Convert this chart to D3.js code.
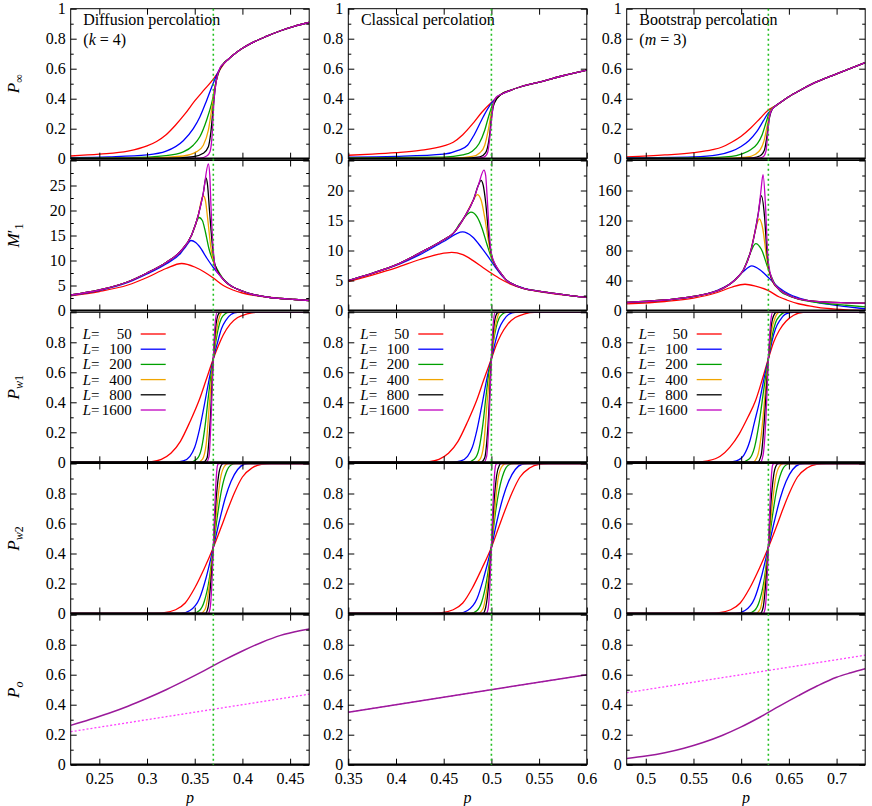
<!DOCTYPE html>
<html>
<head>
<meta charset="utf-8">
<script src="https://cdn.jsdelivr.net/npm/d3@7"></script>
<style>
  body { margin: 0; background: #fff; }
  svg { display: block; font-family: "Liberation Serif", "Times New Roman", serif; }
  svg text { font-family: "Liberation Serif", "Times New Roman", serif; }
</style>
</head>
<body>
<svg id="chart"></svg>
<script>
// ---- data ----
const sizes = [50, 100, 200, 400, 800, 1600];
const seriesColors = ['#ff0000', '#0000ff', '#00a000', '#f0a500', '#000000', '#c000c0'];
const pcList = [0.3695, 0.5, 0.6285];
const pDomains = [[0.22, 0.47], [0.35, 0.6], [0.48, 0.73]];
const xTickVals = [[0.25, 0.3, 0.35, 0.4, 0.45], [0.35, 0.4, 0.45, 0.5, 0.55, 0.6], [0.5, 0.55, 0.6, 0.65, 0.7]];
const titles = ['Diffusion percolation', 'Classical percolation', 'Bootstrap percolation'];
const subtitles = [['k', ' = 4)'], null, ['m', ' = 3)']];
const m1Max = [30, 25, 200];
const m1Ticks = [[0, 5, 10, 15, 20, 25], [0, 5, 10, 15, 20], [0, 40, 80, 120, 160]];
const m1Minor = [[2.5, 7.5, 12.5, 17.5, 22.5, 27.5], [2.5, 7.5, 12.5, 17.5, 22.5], [20, 60, 100, 140, 180]];

// P_infinity : curves below pc, shared tail above
const pinfDiff = [
  [[0.22,0.018],[0.25,0.03],[0.28,0.05],[0.30,0.085],[0.31,0.115],[0.32,0.16],[0.33,0.225],[0.34,0.3],[0.35,0.385],[0.36,0.46],[0.3695,0.53],[0.375,0.58],[0.38,0.628]],
  [[0.22,0.007],[0.26,0.012],[0.30,0.025],[0.32,0.05],[0.338,0.12],[0.3485,0.2],[0.3555,0.28],[0.3626,0.39],[0.3695,0.505],[0.3765,0.6],[0.38,0.632]],
  [[0.22,0.003],[0.28,0.006],[0.32,0.02],[0.338,0.045],[0.3485,0.09],[0.3555,0.148],[0.3626,0.26],[0.3678,0.37],[0.373,0.53],[0.377,0.605],[0.38,0.632]],
  [[0.22,0.001],[0.30,0.003],[0.338,0.018],[0.352,0.047],[0.359,0.09],[0.3643,0.19],[0.3678,0.33],[0.3713,0.48],[0.3765,0.6],[0.38,0.632]],
  [[0.22,0],[0.32,0.002],[0.3485,0.013],[0.359,0.036],[0.3643,0.08],[0.3668,0.17],[0.3695,0.35],[0.3723,0.51],[0.3765,0.6],[0.38,0.632]],
  [[0.22,0],[0.34,0.001],[0.3555,0.004],[0.3626,0.018],[0.366,0.047],[0.3684,0.17],[0.3702,0.39],[0.373,0.53],[0.3765,0.605],[0.38,0.632]]
];
const pinfDiffTail = [[0.38,0.632],[0.385,0.662],[0.39,0.69],[0.40,0.736],[0.41,0.772],[0.425,0.815],[0.44,0.853],[0.455,0.884],[0.47,0.908]];

const pinfClass = [
  [[0.35,0.023],[0.375,0.03],[0.40,0.04],[0.425,0.055],[0.45,0.085],[0.46,0.11],[0.47,0.16],[0.48,0.23],[0.49,0.31],[0.50,0.375],[0.51,0.428]],
  [[0.35,0.01],[0.40,0.015],[0.45,0.03],[0.465,0.055],[0.475,0.09],[0.482,0.16],[0.4915,0.28],[0.50,0.37],[0.507,0.415],[0.51,0.428]],
  [[0.35,0.005],[0.45,0.01],[0.47,0.025],[0.48,0.05],[0.487,0.1],[0.493,0.19],[0.497,0.28],[0.50,0.34],[0.505,0.405],[0.51,0.428]],
  [[0.35,0.002],[0.46,0.004],[0.48,0.015],[0.488,0.04],[0.493,0.09],[0.497,0.2],[0.50,0.31],[0.504,0.39],[0.51,0.428]],
  [[0.35,0.001],[0.47,0.002],[0.488,0.012],[0.494,0.04],[0.498,0.15],[0.50,0.27],[0.503,0.37],[0.51,0.428]],
  [[0.35,0],[0.48,0.001],[0.492,0.01],[0.496,0.04],[0.4985,0.15],[0.50,0.25],[0.502,0.36],[0.505,0.41],[0.51,0.428]]
];
const pinfClassTail = [[0.51,0.428],[0.52,0.456],[0.53,0.478],[0.54,0.495],[0.55,0.51],[0.575,0.553],[0.60,0.59]];

const pinfBoot = [
  [[0.48,0.012],[0.52,0.025],[0.55,0.04],[0.57,0.06],[0.58,0.078],[0.59,0.11],[0.60,0.15],[0.61,0.205],[0.62,0.27],[0.6285,0.325],[0.636,0.352]],
  [[0.48,0.005],[0.55,0.012],[0.575,0.025],[0.59,0.05],[0.5995,0.08],[0.608,0.12],[0.6163,0.18],[0.623,0.25],[0.6285,0.305],[0.636,0.352]],
  [[0.48,0.002],[0.56,0.005],[0.59,0.015],[0.60,0.03],[0.61,0.06],[0.617,0.1],[0.622,0.16],[0.626,0.24],[0.6285,0.29],[0.632,0.335],[0.636,0.352]],
  [[0.48,0.001],[0.58,0.002],[0.605,0.01],[0.615,0.03],[0.62,0.06],[0.624,0.12],[0.627,0.21],[0.6295,0.29],[0.633,0.34],[0.636,0.352]],
  [[0.48,0],[0.59,0.001],[0.612,0.006],[0.62,0.02],[0.6245,0.06],[0.627,0.15],[0.6295,0.27],[0.633,0.335],[0.636,0.352]],
  [[0.48,0],[0.60,0],[0.618,0.003],[0.6235,0.015],[0.626,0.05],[0.6275,0.14],[0.629,0.25],[0.6315,0.32],[0.636,0.352]]
];
const pinfBootTail = [[0.636,0.352],[0.64,0.37],[0.65,0.413],[0.66,0.45],[0.675,0.5],[0.70,0.565],[0.73,0.64]];

// M'_1 : rising envelope, peaks per L, shared falling tail
const m1DiffEnv = [[0.22,3.1],[0.25,4.1],[0.28,5.75],[0.30,7.5],[0.32,9.6],[0.335,11.8],[0.3468,15.1],[0.3538,19.1],[0.359,23.5]];
const m1DiffTail = [[0.38,6.2],[0.385,5.3],[0.39,4.7],[0.40,3.9],[0.41,3.25],[0.425,2.7],[0.44,2.4],[0.455,2.2],[0.47,2.0]];
const m1Diff = [
  [[0.22,2.95],[0.25,3.8],[0.28,5.1],[0.30,6.6],[0.32,8.4],[0.3363,9.4],[0.35,8.7],[0.36,7.7],[0.3695,6.5],[0.38,5.0],[0.39,4.1],[0.40,3.5],[0.41,3.1],[0.425,2.7],[0.44,2.4],[0.455,2.2],[0.47,2.0]],
  [[0.22,3.05],[0.25,4.0],[0.28,5.6],[0.30,7.3],[0.32,9.3],[0.335,11.4],[0.341,12.9],[0.3461,14.0],[0.351,13.6],[0.355,12.8],[0.3626,10.5],[0.3695,8.6],[0.3765,7.0],[0.382,5.9],[0.39,4.7],[0.40,3.9],[0.41,3.25],[0.425,2.7],[0.44,2.4],[0.455,2.2],[0.47,2.0]],
  [[0.335,11.8],[0.3468,15.1],[0.351,17.3],[0.3545,18.6],[0.358,18.0],[0.3605,16.3],[0.365,12.3],[0.3695,9.8],[0.3765,7.3],[0.38,6.3]],
  [[0.3468,15.1],[0.3538,19.1],[0.357,22.0],[0.359,22.9],[0.361,22.2],[0.3635,18.5],[0.367,12.5],[0.37,9.5],[0.3765,7.1],[0.38,6.2]],
  [[0.3538,19.1],[0.359,23.5],[0.3618,26.5],[0.3635,25],[0.3655,20],[0.3685,13],[0.371,9.3],[0.3765,7.1],[0.38,6.2]],
  [[0.359,23.5],[0.3643,29.3],[0.3658,27],[0.367,21],[0.3695,12],[0.372,8.3],[0.3765,7.0],[0.38,6.2]]
];

const m1ClassEnv = [[0.35,5.0],[0.375,6.2],[0.40,7.6],[0.4286,9.9],[0.45,11.8],[0.4602,12.9],[0.4722,15.7],[0.4811,18.4],[0.4864,20.9]];
const m1ClassTail = [[0.505,7.3],[0.51,6.2],[0.516,5.0],[0.525,4.2],[0.5334,3.7],[0.551,3.2],[0.568,2.8],[0.585,2.45],[0.60,2.2]];
const m1Class = [
  [[0.35,4.8],[0.375,5.9],[0.40,7.1],[0.425,8.5],[0.445,9.4],[0.4584,9.7],[0.47,9.3],[0.48,8.4],[0.49,7.3],[0.50,6.2],[0.51,5.2],[0.52,4.4],[0.535,3.6],[0.55,3.15],[0.575,2.6],[0.60,2.2]],
  [[0.35,5.0],[0.375,6.2],[0.40,7.5],[0.425,9.3],[0.45,11.5],[0.4699,13.1],[0.48,12.3],[0.49,10.4],[0.50,8.2],[0.506,6.8],[0.512,5.6],[0.52,4.6],[0.5334,3.75]],
  [[0.4602,12.9],[0.467,14.5],[0.4722,15.6],[0.4786,16.4],[0.485,15.6],[0.49,13.8],[0.495,11.2],[0.50,8.8],[0.505,7.3]],
  [[0.4722,15.7],[0.4811,18.4],[0.4852,19.3],[0.489,18.5],[0.493,15.5],[0.497,11.5],[0.50,9.0],[0.505,7.3]],
  [[0.4811,18.4],[0.4864,20.9],[0.4891,21.7],[0.4915,20.8],[0.494,18],[0.4975,12],[0.50,9.3],[0.505,7.3]],
  [[0.4864,20.9],[0.4922,23.4],[0.494,22.5],[0.4955,19],[0.498,12.5],[0.50,9.5],[0.505,7.4]]
];

const m1BootEnv = [[0.48,10.7],[0.52,14],[0.55,18.7],[0.5813,29.8],[0.5953,43],[0.6023,54],[0.6093,76],[0.6145,105],[0.618,130]];
const m1BootTail = [[0.64,28],[0.65,20],[0.66,15.5],[0.675,12.5],[0.69,11],[0.71,10.3],[0.73,9.8]];
const m1Boot = [
  [[0.48,8.9],[0.52,12],[0.55,16.5],[0.575,24],[0.59,31],[0.604,35],[0.615,32.5],[0.6285,26.5],[0.64,18],[0.6477,14],[0.66,9],[0.6756,5.3],[0.69,2.7],[0.71,0.9],[0.73,0.3]],
  [[0.48,10.5],[0.52,13.8],[0.55,18.5],[0.575,27],[0.59,37],[0.6023,52],[0.611,59.6],[0.62,54],[0.6285,44],[0.64,30],[0.65,22],[0.66,17],[0.6756,12],[0.69,8.5],[0.71,5.3],[0.73,2.2]],
  [[0.6093,76],[0.6152,89.3],[0.621,82],[0.6285,55],[0.635,36],[0.6408,26],[0.65,19.5],[0.6582,15.8],[0.675,11.5],[0.693,8.9],[0.71,7],[0.73,4.9]],
  [[0.6145,105],[0.619,122],[0.6225,110],[0.6265,72],[0.6285,56],[0.633,38],[0.64,28]],
  [[0.618,130],[0.6211,153],[0.6245,125],[0.627,78],[0.6285,60],[0.633,39],[0.64,28]],
  [[0.618,130],[0.6205,157],[0.6229,181],[0.6255,140],[0.6275,82],[0.6285,64],[0.633,40],[0.64,28]]
];

// P_w1
const pw1Diff = [
  [[0.22,0],[0.29,0],[0.305,0.005],[0.315,0.02],[0.325,0.06],[0.335,0.14],[0.345,0.27],[0.355,0.42],[0.362,0.55],[0.3695,0.69],[0.375,0.78],[0.38,0.85],[0.387,0.92],[0.395,0.965],[0.405,0.99],[0.415,1],[0.47,1]],
  [[0.22,0],[0.328,0],[0.338,0.01],[0.345,0.04],[0.35,0.1],[0.355,0.22],[0.36,0.38],[0.365,0.55],[0.3695,0.69],[0.374,0.8],[0.378,0.89],[0.383,0.95],[0.388,0.985],[0.395,1],[0.47,1]],
  [[0.22,0],[0.345,0],[0.352,0.02],[0.357,0.09],[0.361,0.25],[0.364,0.42],[0.367,0.58],[0.3695,0.69],[0.372,0.8],[0.375,0.9],[0.378,0.96],[0.382,0.99],[0.386,1],[0.47,1]],
  [[0.22,0],[0.353,0],[0.358,0.02],[0.362,0.12],[0.3655,0.4],[0.3695,0.69],[0.3725,0.86],[0.3755,0.96],[0.379,1],[0.47,1]],
  [[0.22,0],[0.359,0],[0.363,0.03],[0.366,0.25],[0.3695,0.69],[0.372,0.9],[0.375,0.99],[0.377,1],[0.47,1]],
  [[0.22,0],[0.362,0],[0.365,0.04],[0.3675,0.35],[0.3695,0.69],[0.3715,0.93],[0.3735,1],[0.47,1]]
];
const pw1Class = [
  [[0.35,0],[0.42,0],[0.435,0.005],[0.445,0.02],[0.455,0.06],[0.465,0.14],[0.475,0.27],[0.485,0.42],[0.492,0.55],[0.5,0.69],[0.505,0.78],[0.51,0.85],[0.517,0.92],[0.525,0.965],[0.535,0.99],[0.545,1],[0.6,1]],
  [[0.35,0],[0.458,0],[0.468,0.01],[0.475,0.04],[0.48,0.1],[0.485,0.22],[0.49,0.38],[0.495,0.55],[0.5,0.69],[0.504,0.8],[0.508,0.89],[0.513,0.95],[0.518,0.985],[0.525,1],[0.6,1]],
  [[0.35,0],[0.475,0],[0.482,0.02],[0.487,0.09],[0.491,0.25],[0.494,0.42],[0.497,0.58],[0.5,0.69],[0.502,0.8],[0.505,0.9],[0.508,0.96],[0.512,0.99],[0.516,1],[0.6,1]],
  [[0.35,0],[0.483,0],[0.488,0.02],[0.492,0.12],[0.4955,0.4],[0.5,0.69],[0.503,0.86],[0.506,0.96],[0.509,1],[0.6,1]],
  [[0.35,0],[0.489,0],[0.493,0.03],[0.4965,0.25],[0.5,0.69],[0.5025,0.9],[0.5055,0.99],[0.5075,1],[0.6,1]],
  [[0.35,0],[0.492,0],[0.495,0.04],[0.498,0.35],[0.5,0.69],[0.502,0.93],[0.504,1],[0.6,1]]
];
const pw1Boot = [
  [[0.48,0],[0.55,0],[0.565,0.01],[0.578,0.04],[0.588,0.1],[0.598,0.19],[0.607,0.3],[0.615,0.41],[0.622,0.55],[0.6285,0.69],[0.634,0.8],[0.64,0.88],[0.647,0.94],[0.655,0.98],[0.665,1],[0.73,1]],
  [[0.48,0],[0.585,0],[0.595,0.01],[0.603,0.05],[0.609,0.14],[0.614,0.27],[0.619,0.4],[0.624,0.56],[0.6285,0.69],[0.632,0.8],[0.636,0.89],[0.641,0.95],[0.647,0.99],[0.655,1],[0.73,1]],
  [[0.48,0],[0.6,0],[0.608,0.02],[0.614,0.1],[0.619,0.27],[0.624,0.5],[0.6285,0.69],[0.632,0.83],[0.636,0.93],[0.641,0.98],[0.646,1],[0.73,1]],
  [[0.48,0],[0.612,0],[0.617,0.04],[0.621,0.18],[0.625,0.45],[0.6285,0.69],[0.632,0.88],[0.636,0.97],[0.64,1],[0.73,1]],
  [[0.48,0],[0.617,0],[0.621,0.05],[0.6245,0.3],[0.6285,0.69],[0.6315,0.91],[0.635,0.99],[0.637,1],[0.73,1]],
  [[0.48,0],[0.62,0],[0.623,0.05],[0.626,0.3],[0.6285,0.69],[0.631,0.94],[0.633,1],[0.73,1]]
];

// P_w2
const pw2Diff = [
  [[0.22,0],[0.30,0],[0.315,0.003],[0.33,0.025],[0.34,0.07],[0.35,0.17],[0.36,0.3],[0.3695,0.44],[0.378,0.58],[0.385,0.7],[0.392,0.81],[0.40,0.91],[0.41,0.97],[0.42,0.995],[0.43,1],[0.47,1]],
  [[0.22,0],[0.335,0],[0.345,0.02],[0.355,0.1],[0.362,0.24],[0.3695,0.44],[0.376,0.62],[0.382,0.77],[0.388,0.88],[0.395,0.96],[0.402,0.995],[0.408,1],[0.47,1]],
  [[0.22,0],[0.348,0],[0.355,0.02],[0.36,0.08],[0.365,0.22],[0.3695,0.44],[0.374,0.66],[0.378,0.82],[0.383,0.94],[0.388,0.99],[0.393,1],[0.47,1]],
  [[0.22,0],[0.356,0],[0.361,0.03],[0.3655,0.2],[0.3695,0.44],[0.3735,0.72],[0.377,0.9],[0.381,0.98],[0.385,1],[0.47,1]],
  [[0.22,0],[0.361,0],[0.364,0.04],[0.367,0.22],[0.3695,0.44],[0.372,0.72],[0.375,0.92],[0.378,0.99],[0.38,1],[0.47,1]],
  [[0.22,0],[0.364,0],[0.366,0.03],[0.368,0.2],[0.3695,0.44],[0.371,0.7],[0.3725,0.9],[0.374,0.99],[0.3755,1],[0.47,1]]
];
const pw2Class = [
  [[0.35,0],[0.43,0],[0.445,0.003],[0.46,0.025],[0.47,0.07],[0.48,0.17],[0.49,0.3],[0.5,0.44],[0.508,0.58],[0.515,0.7],[0.522,0.81],[0.53,0.91],[0.54,0.97],[0.55,0.995],[0.56,1],[0.6,1]],
  [[0.35,0],[0.465,0],[0.475,0.02],[0.485,0.1],[0.492,0.24],[0.5,0.44],[0.506,0.62],[0.512,0.77],[0.518,0.88],[0.525,0.96],[0.532,0.995],[0.538,1],[0.6,1]],
  [[0.35,0],[0.478,0],[0.485,0.02],[0.49,0.08],[0.495,0.22],[0.5,0.44],[0.504,0.66],[0.508,0.82],[0.513,0.94],[0.518,0.99],[0.523,1],[0.6,1]],
  [[0.35,0],[0.486,0],[0.491,0.03],[0.496,0.2],[0.5,0.44],[0.504,0.72],[0.507,0.9],[0.511,0.98],[0.515,1],[0.6,1]],
  [[0.35,0],[0.491,0],[0.494,0.04],[0.4975,0.22],[0.5,0.44],[0.5025,0.72],[0.5055,0.92],[0.5085,0.99],[0.51,1],[0.6,1]],
  [[0.35,0],[0.4945,0],[0.4965,0.03],[0.4985,0.2],[0.5,0.44],[0.5015,0.7],[0.503,0.9],[0.5045,0.99],[0.506,1],[0.6,1]]
];
const pw2Boot = [
  [[0.48,0],[0.559,0],[0.574,0.003],[0.589,0.025],[0.599,0.07],[0.609,0.17],[0.619,0.3],[0.6285,0.44],[0.637,0.58],[0.644,0.7],[0.651,0.81],[0.659,0.91],[0.669,0.97],[0.679,0.995],[0.689,1],[0.73,1]],
  [[0.48,0],[0.594,0],[0.604,0.02],[0.614,0.1],[0.621,0.24],[0.6285,0.44],[0.635,0.62],[0.641,0.77],[0.647,0.88],[0.654,0.96],[0.661,0.995],[0.667,1],[0.73,1]],
  [[0.48,0],[0.607,0],[0.614,0.02],[0.619,0.08],[0.624,0.22],[0.6285,0.44],[0.633,0.66],[0.637,0.82],[0.642,0.94],[0.647,0.99],[0.652,1],[0.73,1]],
  [[0.48,0],[0.615,0],[0.62,0.03],[0.6245,0.2],[0.6285,0.44],[0.6325,0.72],[0.636,0.9],[0.64,0.98],[0.644,1],[0.73,1]],
  [[0.48,0],[0.62,0],[0.623,0.04],[0.626,0.22],[0.6285,0.44],[0.631,0.72],[0.634,0.92],[0.637,0.99],[0.639,1],[0.73,1]],
  [[0.48,0],[0.623,0],[0.625,0.03],[0.627,0.2],[0.6285,0.44],[0.63,0.7],[0.6315,0.9],[0.633,0.99],[0.6345,1],[0.73,1]]
];

// P_o (solid) and the p line (dotted)
const poDiff = [[0.22,0.262],[0.24,0.301],[0.26,0.343],[0.28,0.39],[0.30,0.443],[0.32,0.5],[0.34,0.562],[0.36,0.627],[0.38,0.695],[0.40,0.758],[0.42,0.815],[0.44,0.862],[0.46,0.893],[0.47,0.905]];
const poClass = [[0.35,0.35],[0.6,0.6]];
const poBoot = [[0.48,0.042],[0.50,0.058],[0.52,0.08],[0.54,0.11],[0.56,0.148],[0.58,0.195],[0.60,0.252],[0.62,0.318],[0.64,0.39],[0.66,0.46],[0.68,0.526],[0.70,0.583],[0.715,0.613],[0.73,0.64]];
const diagDiff = [[0.22,0.22],[0.47,0.47]];
const diagClass = [[0.35,0.35],[0.6,0.6]];
const diagBoot = [[0.48,0.48],[0.73,0.73]];

// ---- layout ----
const width = 872, height = 806;
const panelLeft = [70.7, 348.3, 626.7], panelW = 238.5;
const rowTop = [8.7, 160.5, 312.3, 463.5, 614.7], panelH = 150;
const fontFam = '"Liberation Serif", "Times New Roman", serif';

const svg = d3.select('#chart').attr('width', width).attr('height', height);

let join = (env, core, tail) => {
  let first = core[0][0], last = core[core.length - 1][0];
  return env.filter(d => d[0] < first).concat(core, tail.filter(d => d[0] > last));
};

const rowCurves = [
  [pinfDiff.map(c => join([], c, pinfDiffTail)), pinfClass.map(c => join([], c, pinfClassTail)), pinfBoot.map(c => join([], c, pinfBootTail))],
  [m1Diff.map(c => join(m1DiffEnv, c, m1DiffTail)), m1Class.map(c => join(m1ClassEnv, c, m1ClassTail)), m1Boot.map(c => join(m1BootEnv, c, m1BootTail))],
  [pw1Diff, pw1Class, pw1Boot],
  [pw2Diff, pw2Class, pw2Boot]
];
const poCurves = [poDiff, poClass, poBoot];
const diagCurves = [diagDiff, diagClass, diagBoot];

let styleAxis = (gg) => {
  gg.attr('font-family', null).attr('font-size', null)
    .style('font-family', fontFam).style('font-size', '16px');
  gg.select('.domain').remove();
  gg.selectAll('line').attr('stroke', '#000').attr('stroke-width', 1);
  gg.selectAll('text').attr('fill', '#000').style('font-family', fontFam);
};

for (let r = 0; r < 5; r++) {
  for (let c = 0; c < 3; c++) {
    const g = svg.append('g').attr('transform', `translate(${panelLeft[c]},${rowTop[r]})`);
    const x = d3.scaleLinear().domain(pDomains[c]).range([0, panelW]);
    const yMax = r === 1 ? m1Max[c] : 1;
    const y = d3.scaleLinear().domain([0, yMax]).range([panelH, 0]);
    const id = `clip${r}${c}`;
    g.append('clipPath').attr('id', id).append('rect').attr('width', panelW).attr('height', panelH);
    const plot = g.append('g').attr('clip-path', `url(#${id})`);
    const line = d3.line().x(d => x(d[0])).y(d => y(d[1])).curve(d3.curveMonotoneX);

    if (r < 4) {
      rowCurves[r][c].forEach((pts, i) => {
        plot.append('path').attr('d', line(pts)).attr('fill', 'none')
          .attr('stroke', seriesColors[i]).attr('stroke-width', 1.3);
      });
    } else {
      plot.append('path').attr('d', line(diagCurves[c])).attr('fill', 'none')
        .attr('stroke', '#ff40ff').attr('stroke-width', 1.3).attr('stroke-dasharray', '2,2');
      plot.append('path').attr('d', line(poCurves[c])).attr('fill', 'none')
        .attr('stroke', '#9a1a9a').attr('stroke-width', 1.5);
    }

    // y ticks
    let yMajor, yLabeled, yMinor;
    if (r === 1) {
      yMajor = m1Ticks[c].concat([m1Max[c]]);
      yLabeled = m1Ticks[c];
      yMinor = m1Minor[c];
    } else {
      yMajor = [0, 0.2, 0.4, 0.6, 0.8, 1];
      yLabeled = r === 0 ? yMajor : [0, 0.2, 0.4, 0.6, 0.8];
      yMinor = [0.1, 0.3, 0.5, 0.7, 0.9];
    }
    const leftAx = g.append('g').call(d3.axisLeft(y).tickValues(yMajor).tickSize(-6).tickPadding(5)
      .tickFormat(v => yLabeled.includes(v) ? String(v) : ''));
    styleAxis(leftAx);
    styleAxis(g.append('g').call(d3.axisLeft(y).tickValues(yMinor).tickSize(-3).tickFormat('')));
    styleAxis(g.append('g').attr('transform', `translate(${panelW},0)`)
      .call(d3.axisRight(y).tickValues(yMajor).tickSize(-6).tickFormat('')));
    styleAxis(g.append('g').attr('transform', `translate(${panelW},0)`)
      .call(d3.axisRight(y).tickValues(yMinor).tickSize(-3).tickFormat('')));

    // x ticks
    const botAx = g.append('g').attr('transform', `translate(0,${panelH})`)
      .call(d3.axisBottom(x).tickValues(xTickVals[c]).tickSize(-6).tickPadding(8)
        .tickFormat(v => r === 4 ? String(v) : ''));
    styleAxis(botAx);
    styleAxis(g.append('g').call(d3.axisTop(x).tickValues(xTickVals[c]).tickSize(-6).tickFormat('')));

    // frame and thick zero line
    g.append('rect').attr('width', panelW).attr('height', panelH)
      .attr('fill', 'none').attr('stroke', '#000').attr('stroke-width', 1);
    g.append('line').attr('x1', 0).attr('x2', panelW).attr('y1', y(0)).attr('y2', y(0))
      .attr('stroke', '#000').attr('stroke-width', 2.2);

    // legend
    if (r === 2) {
      sizes.forEach((L, i) => {
        const ly = 21.7 + i * 15.2;
        const t = g.append('text').attr('x', 12).attr('y', ly + 5)
          .style('font-family', fontFam).style('font-size', '15px');
        t.append('tspan').attr('font-style', 'italic').text('L');
        t.append('tspan').text('=');
        g.append('text').attr('x', 61).attr('y', ly + 5).attr('text-anchor', 'end')
          .style('font-family', fontFam).style('font-size', '15px').text(L);
        g.append('line').attr('x1', 70).attr('x2', 95).attr('y1', ly).attr('y2', ly)
          .attr('stroke', seriesColors[i]).attr('stroke-width', 1.3);
      });
    }
  }
}

// titles
titles.forEach((t, c) => {
  svg.append('text').attr('x', panelLeft[c] + 12.6).attr('y', 24.5)
    .style('font-family', fontFam).style('font-size', '16px').text(t);
  if (subtitles[c]) {
    const s = svg.append('text').attr('x', panelLeft[c] + 12.6).attr('y', 45)
      .style('font-family', fontFam).style('font-size', '16px');
    s.append('tspan').text('(');
    s.append('tspan').attr('font-style', 'italic').text(subtitles[c][0]);
    s.append('tspan').text(subtitles[c][1]);
  }
});

// critical points (dotted green lines through all rows)
pcList.forEach((pc, c) => {
  const x = d3.scaleLinear().domain(pDomains[c]).range([panelLeft[c], panelLeft[c] + panelW]);
  svg.append('line').attr('x1', x(pc)).attr('x2', x(pc))
    .attr('y1', rowTop[0]).attr('y2', rowTop[4] + panelH)
    .attr('stroke', '#22c022').attr('stroke-width', 1.6).attr('stroke-dasharray', '2,3');
});

// y labels
const yLabels = [
  [['P', 'i'], ['∞', 's']],
  [['M', 'i'], ['′', 'n'], ['1', 's']],
  [['P', 'i'], ['w', 'si'], ['1', 's']],
  [['P', 'i'], ['w', 'si'], ['2', 's']],
  [['P', 'i'], ['o', 'si']]
];
yLabels.forEach((parts, r) => {
  const t = svg.append('text').attr('text-anchor', 'middle')
    .attr('transform', `translate(18.5,${rowTop[r] + panelH / 2}) rotate(-90)`)
    .style('font-family', fontFam).style('font-size', '17px');
  let inSub = false;
  parts.forEach(([s, k]) => {
    const ts = t.append('tspan').text(s);
    if (k.includes('i')) ts.attr('font-style', 'italic');
    if (k.includes('s')) {
      ts.style('font-size', '12px');
      if (!inSub) { ts.attr('dy', 4); inSub = true; }
    }
  });
});

// x labels
panelLeft.forEach(l => {
  svg.append('text').attr('x', l + panelW / 2).attr('y', 802.5).attr('text-anchor', 'middle')
    .style('font-family', fontFam).style('font-size', '16px').attr('font-style', 'italic').text('p');
});
</script>
</body>
</html>
